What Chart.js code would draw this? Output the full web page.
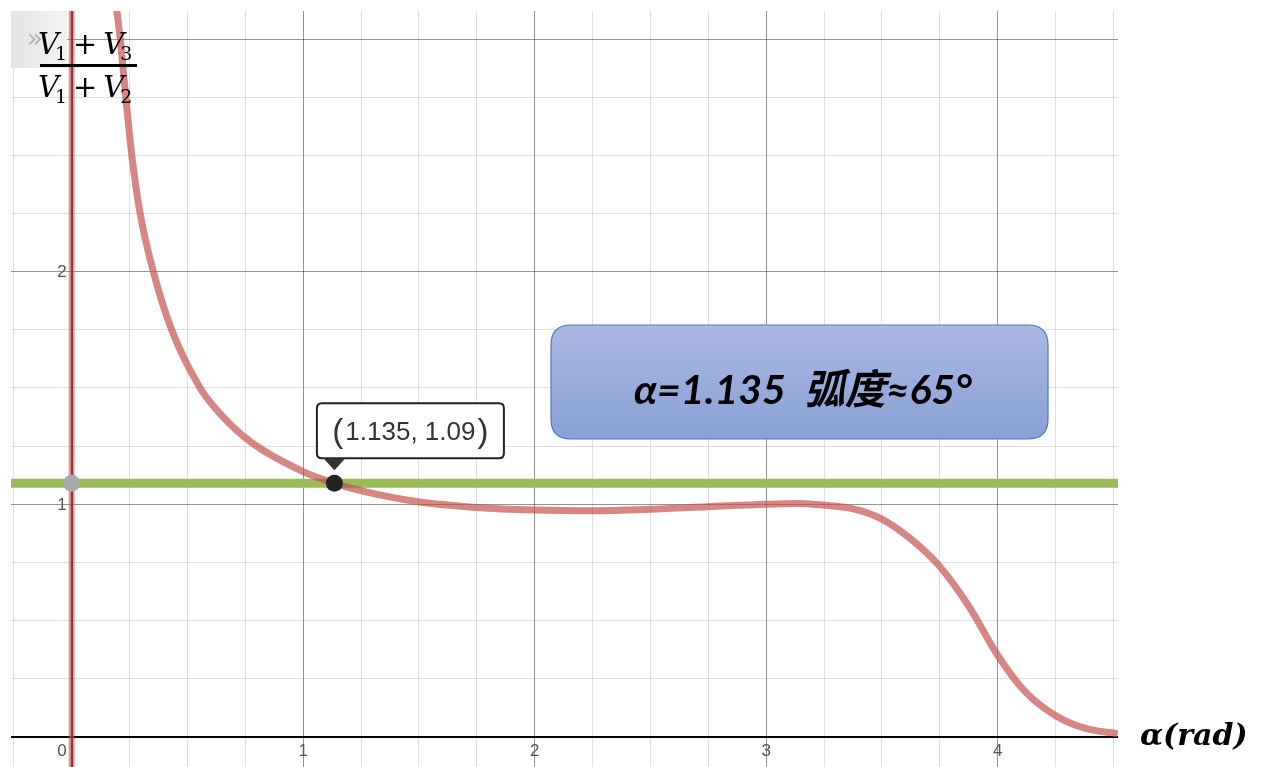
<!DOCTYPE html>
<html>
<head>
<meta charset="utf-8">
<title>V1+V3 / V1+V2</title>
<script src="https://cdn.jsdelivr.net/npm/chart.js@4.4.1/dist/chart.umd.min.js"></script>
<style>
  html, body { margin: 0; padding: 0; background: #fff; }
  canvas { display: block; }
</style>
</head>
<body>
<canvas id="myChart" width="1262" height="767"></canvas>
<script>
// ratio (V1+V3)/(V1+V2) against alpha in rad
var alphaX = [0.195, 0.21, 0.234, 0.26, 0.296, 0.353, 0.432, 0.555, 0.645, 0.77, 1.0, 1.135, 1.248,
              1.497, 1.745, 2.0, 2.242, 2.498, 2.748, 3.0, 3.136, 3.233, 3.376, 3.498, 3.62,
              3.749, 3.878, 4.0, 4.122, 4.251, 4.38, 4.519];
var ratioY = [3.125, 3.0, 2.75, 2.5, 2.25, 2.0, 1.75, 1.5, 1.385, 1.27, 1.14, 1.09, 1.058,
              1.01, 0.986, 0.975, 0.972, 0.978, 0.989, 1.0, 1.003, 0.997, 0.98, 0.937, 0.854,
              0.733, 0.557, 0.35, 0.19, 0.09, 0.035, 0.012];
// green level line and the marked crossing point
var levelY = 1.09;
var crossX = 1.135;
var crossLabel = '1.135, 1.09';
var boxText = 'α=1.135  弧度≈65°';
var xTickLabels = [0, 1, 2, 3, 4];
var yTickLabels = [1, 2];
var xRange = [-0.262, 4.52];
var yRange = [-0.131, 3.122];

var curve = alphaX.map(function (x, i) { return {x: x, y: ratioY[i]}; });

function isInt(v) { return Math.abs(v - Math.round(v)) < 1e-6; }

function gridColor(c) {
    var v = c.tick.value;
    if (Math.abs(v) < 1e-6) return '#000';
    return isInt(v) ? 'rgba(0,0,0,0.42)' : 'rgba(0,0,0,0.12)';
}
function gridWidth(c) {
    return Math.abs(c.tick.value) < 1e-6 ? 2 : 1;
}

function roundRect(ctx, x, y, w, h, r) {
    ctx.beginPath();
    ctx.moveTo(x + r, y);
    ctx.lineTo(x + w - r, y);
    ctx.quadraticCurveTo(x + w, y, x + w, y + r);
    ctx.lineTo(x + w, y + h - r);
    ctx.quadraticCurveTo(x + w, y + h, x + w - r, y + h);
    ctx.lineTo(x + r, y + h);
    ctx.quadraticCurveTo(x, y + h, x, y + h - r);
    ctx.lineTo(x, y + r);
    ctx.quadraticCurveTo(x, y, x + r, y);
    ctx.closePath();
}

// V with a subscript, returns new x
function drawV(ctx, x, base, sub) {
    ctx.font = 'italic 29px "DejaVu Serif"';
    ctx.fillText('V', x, base);
    x += ctx.measureText('V').width - 4;
    ctx.font = '19px "DejaVu Serif"';
    ctx.fillText(sub, x, base + 6);
    return x + ctx.measureText(sub).width;
}
function drawSum(ctx, x, base, a, b) {
    x = drawV(ctx, x, base, a);
    ctx.font = '29px "DejaVu Serif"';
    x += 6;
    ctx.fillText('+', x, base);
    x += ctx.measureText('+').width + 6;
    return drawV(ctx, x, base, b);
}

var overlay = {
    id: 'overlay',
    afterDatasetsDraw: function (chart) {
        var ctx = chart.ctx, xs = chart.scales.x, ys = chart.scales.y;
        var x0 = xs.getPixelForValue(0), y0 = ys.getPixelForValue(0);
        ctx.save();

        // axis numbers
        ctx.fillStyle = '#555';
        ctx.font = '17px "Liberation Sans", Arial, sans-serif';
        ctx.textBaseline = 'top';
        xTickLabels.forEach(function (v) {
            var px = xs.getPixelForValue(v);
            if (v === 0) {
                ctx.textAlign = 'right';
                ctx.fillText('0', px - 5, y0 + 6);
            } else {
                ctx.textAlign = 'center';
                ctx.fillText(String(v), px, y0 + 6);
            }
        });
        ctx.textAlign = 'right';
        ctx.textBaseline = 'middle';
        yTickLabels.forEach(function (v) {
            ctx.fillText(String(v), x0 - 5, ys.getPixelForValue(v) + 1);
        });

        // collapse button top left
        var g = ctx.createLinearGradient(11, 0, 68, 0);
        g.addColorStop(0, '#e4e4e4');
        g.addColorStop(1, '#f3f3f3');
        ctx.fillStyle = g;
        ctx.fillRect(11, 11, 56, 57);
        ctx.fillStyle = '#b0b0b0';
        ctx.font = '26px "DejaVu Sans"';
        ctx.textAlign = 'left';
        ctx.textBaseline = 'alphabetic';
        ctx.fillText('»', 27, 47);

        // y title as fraction
        ctx.fillStyle = '#000';
        drawSum(ctx, 38, 54, '1', '3');
        ctx.fillRect(40, 64, 97, 3);
        drawSum(ctx, 38, 97, '1', '2');

        // x title
        ctx.font = 'bold italic 30px "DejaVu Serif"';
        ctx.fillText('α(rad)', 1140, 745);

        // point label
        var px = xs.getPixelForValue(crossX), py = ys.getPixelForValue(levelY);
        roundRect(ctx, px - 17.5, py - 80, 187, 55, 5);
        ctx.fillStyle = '#fff';
        ctx.fill();
        ctx.lineWidth = 2;
        ctx.strokeStyle = '#222';
        ctx.stroke();
        ctx.beginPath();
        ctx.moveTo(px - 11, py - 25);
        ctx.lineTo(px + 11, py - 25);
        ctx.lineTo(px, py - 13);
        ctx.closePath();
        ctx.fillStyle = '#333';
        ctx.fill();
        ctx.textBaseline = 'alphabetic';
        ctx.textAlign = 'left';
        ctx.font = '26px "Liberation Sans", Arial, sans-serif';
        var tw = ctx.measureText(crossLabel).width;
        ctx.font = '33px "Liberation Sans", Arial, sans-serif';
        var pw = ctx.measureText('(').width;
        var tx = px + 76 - (tw + 2 * pw + 4) / 2;
        ctx.fillText('(', tx, py - 41);
        ctx.fillText(')', tx + pw + tw + 4, py - 41);
        ctx.font = '26px "Liberation Sans", Arial, sans-serif';
        ctx.fillText(crossLabel, tx + pw + 2, py - 43);

        // result box
        var bg = ctx.createLinearGradient(0, 325, 0, 439);
        bg.addColorStop(0, '#aab9e2');
        bg.addColorStop(1, '#88a0d5');
        roundRect(ctx, 551, 325, 497, 114, 20);
        ctx.fillStyle = bg;
        ctx.fill();
        ctx.lineWidth = 1.2;
        ctx.strokeStyle = '#4a78c8';
        ctx.stroke();
        ctx.fillStyle = '#000';
        ctx.font = 'italic bold 41px Lato, "Noto Sans CJK SC", sans-serif';
        ctx.textAlign = 'center';
        ctx.fillText(boxText, 803, 404);

        ctx.restore();
    }
};

function noSize(scale) {
    if (scale.isHorizontal()) scale.height = 0; else scale.width = 0;
}

new Chart(document.getElementById('myChart'), {
    type: 'scatter',
    data: {
        datasets: [
            {
                label: 'points',
                data: [{x: 0, y: levelY}, {x: crossX, y: levelY}],
                pointRadius: 8.5,
                pointBackgroundColor: ['#a9a9a9', '#222'],
                pointBorderWidth: 0,
                showLine: false,
                order: 0
            },
            {
                label: 'ratio',
                data: curve,
                showLine: true,
                borderColor: 'rgba(196,76,74,0.68)',
                borderWidth: 7,
                pointRadius: 0,
                cubicInterpolationMode: 'monotone',
                order: 1
            },
            {
                label: 'level',
                data: [{x: xRange[0], y: levelY}, {x: xRange[1], y: levelY}],
                showLine: true,
                borderColor: '#9bbb59',
                borderWidth: 9,
                pointRadius: 0,
                order: 2
            },
            {
                label: 'asymptote',
                data: [{x: 0, y: yRange[0]}, {x: 0, y: yRange[1]}],
                showLine: true,
                borderColor: 'rgba(196,76,74,0.55)',
                borderWidth: 6,
                pointRadius: 0,
                order: 3
            },
            {
                label: 'asymptote core',
                data: [{x: 0, y: yRange[0]}, {x: 0, y: yRange[1]}],
                showLine: true,
                borderColor: 'rgba(170,50,50,0.6)',
                borderWidth: 2,
                pointRadius: 0,
                order: 3
            }
        ]
    },
    options: {
        responsive: false,
        animation: false,
        layout: {autoPadding: false, padding: {left: 11, top: 11, right: 144, bottom: 0}},
        plugins: {legend: {display: false}, tooltip: {enabled: false}},
        scales: {
            x: {
                type: 'linear',
                min: xRange[0], max: xRange[1],
                border: {display: false},
                grid: {color: gridColor, lineWidth: gridWidth, drawTicks: false},
                ticks: {display: false, stepSize: 0.25, includeBounds: false, autoSkip: false, maxTicksLimit: 100},
                afterFit: noSize
            },
            y: {
                type: 'linear',
                min: yRange[0], max: yRange[1],
                border: {display: false},
                grid: {color: gridColor, lineWidth: gridWidth, drawTicks: false},
                ticks: {display: false, stepSize: 0.25, includeBounds: false, autoSkip: false, maxTicksLimit: 100},
                afterFit: noSize
            }
        }
    },
    plugins: [overlay]
});
</script>
</body>
</html>
